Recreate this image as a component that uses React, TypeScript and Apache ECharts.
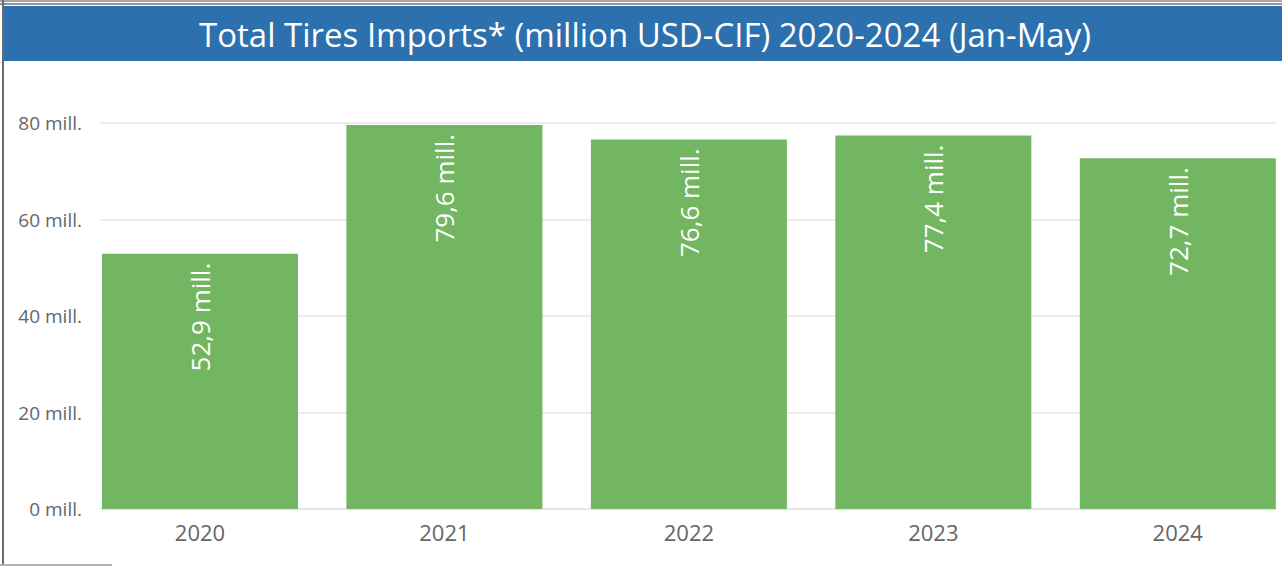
import React, { useEffect, useRef } from "react";
import * as echarts from "echarts";

const titleText = "Total Tires Imports* (million USD-CIF) 2020-2024 (Jan-May)";
const categories = ["2020", "2021", "2022", "2023", "2024"];
const values = [52.9, 79.6, 76.6, 77.4, 72.7];
const yTicks = [0, 20, 40, 60, 80];

const FONT = "'Open Sans', 'Noto Sans', sans-serif";

export default function App() {
  const ref = useRef<HTMLDivElement>(null);
  useEffect(() => {
    const chart = echarts.init(ref.current!, null, { renderer: "svg" });
    chart.setOption({
      animation: false,
      backgroundColor: "#ffffff",
      textStyle: { fontFamily: FONT },
      graphic: [
        { type: "rect", shape: { x: 4, y: 6, width: 1296, height: 55 }, style: { fill: "#2C71AE" }, z: 0 },
        { type: "line", shape: { x1: 0, y1: 1, x2: 1300, y2: 1 }, style: { stroke: "#8a8a8a", lineWidth: 1.5 } },
        { type: "line", shape: { x1: 0, y1: 4, x2: 1300, y2: 4 }, style: { stroke: "#707070", lineWidth: 1.5 } },
        { type: "line", shape: { x1: 3, y1: 0, x2: 3, y2: 564 }, style: { stroke: "#6a6a6a", lineWidth: 2 } },
        { type: "line", shape: { x1: 0, y1: 565, x2: 112, y2: 565 }, style: { stroke: "#8a9bb0", lineWidth: 1.5 } },
        {
          type: "text",
          x: 645,
          y: 34,
          style: {
            text: titleText,
            fill: "#ffffff",
            font: `33px ${FONT}`,
            align: "center",
            verticalAlign: "middle",
          },
          z: 10,
        },
      ],
      grid: [
        { left: 77.75, right: 0, top: 123, bottom: 57, containLabel: false },
        { left: 101, right: 24, top: 123, bottom: 57, containLabel: false },
      ],
      xAxis: [
        {
          type: "category",
          gridIndex: 0,
          data: categories,
          axisLine: { show: false },
          axisTick: { show: false },
          axisLabel: { color: "#666666", fontSize: 22, margin: 12, fontFamily: FONT },
        },
        {
          type: "category",
          gridIndex: 1,
          data: categories,
          axisLine: { show: true, lineStyle: { color: "#e6e6e6", width: 2 } },
          axisTick: { show: false },
          axisLabel: { show: false },
        },
      ],
      yAxis: [
        {
          type: "value",
          gridIndex: 0,
          min: 0,
          max: 80,
          interval: 20,
          show: false,
          splitLine: { show: false },
        },
        {
          type: "value",
          gridIndex: 1,
          min: 0,
          max: 80,
          interval: 20,
          axisLine: { show: false },
          axisTick: { show: false },
          splitLine: { lineStyle: { color: "#e6e6e6", width: 1.5 } },
          axisLabel: {
            color: "#666666",
            fontSize: 19,
            margin: 19,
            fontFamily: FONT,
            formatter: (v: number) => (yTicks.includes(v) ? `${v} mill.` : ""),
          },
        },
      ],
      series: [
        {
          type: "bar",
          xAxisIndex: 0,
          yAxisIndex: 0,
          data: values,
          barWidth: 196,
          itemStyle: { color: "#72B662" },
          label: {
            show: true,
            position: "insideTop",
            rotate: 90,
            align: "right",
            verticalAlign: "middle",
            distance: 9,
            color: "#ffffff",
            fontSize: 26,
            fontFamily: FONT,
            formatter: (p: any) => `${String(p.value).replace(".", ",")} mill.`,
          },
        },
      ],
    });
    return () => chart.dispose();
  }, []);
  return (
    <div
      style={{ position: "fixed", left: 0, top: 0, width: 1282, height: 566, overflow: "hidden" }}
    >
      <div ref={ref} style={{ width: 1300, height: 566 }} />
    </div>
  );
}
